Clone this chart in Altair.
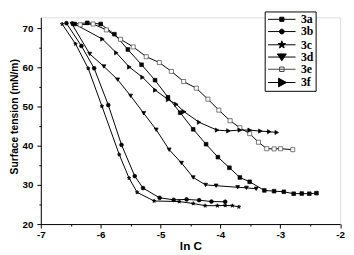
import altair as alt
import pandas as pd

# ---- data ----
series_names = ["3a", "3b", "3c", "3d", "3e", "3f"]

x_3a = [-6.436, -6.224, -6.000, -5.771, -5.546, -5.317, -5.092, -4.876, -4.672, -4.454, -4.239,
        -4.042, -3.850, -3.675, -3.511, -3.266, -3.103, -2.940, -2.776, -2.641, -2.515, -2.395]
y_3a = [71.1, 71.4, 71.1, 68.5, 64.6, 60.7, 56.75, 52.4, 48.45, 44.2, 40.4,
        37.1, 34.4, 31.9, 30.8, 28.6, 28.4, 28.25, 27.75, 27.8, 27.75, 27.9]

x_3b = [-6.572, -6.322, -6.109, -5.873, -5.652, -5.431, -5.292, -5.015, -4.781, -4.565, -4.356, -4.149, -3.920]
y_3b = [71.3, 65.5, 59.8, 50.4, 40.25, 32.25, 29.2, 26.7, 26.2, 26.3, 26.1, 25.75, 25.7]

x_3c = [-6.644, -6.420, -6.208, -5.979, -5.690, -5.526, -5.391, -5.108, -4.688, -4.454, -4.255,
        -4.051, -3.920, -3.801, -3.691]
y_3c = [71.1, 66.0, 59.75, 50.1, 37.75, 31.75, 28.1, 25.9, 25.75, 25.25, 24.7,
        24.7, 24.75, 24.7, 24.4]

x_3d = [-6.480, -6.183, -5.946, -5.717, -5.500, -5.281, -5.072, -4.856, -4.650, -4.454, -4.247,
        -4.072, -3.712, -3.565, -3.402]
y_3d = [71.1, 63.45, 60.25, 56.9, 52.75, 48.3, 44.1, 39.0, 35.6, 31.9, 30.0,
        29.8, 29.4, 29.25, 29.0]

x_3e = [-6.343, -6.126, -5.905, -5.668, -5.456, -5.239, -5.020, -4.819, -4.614, -4.402, -4.209,
        -4.026, -3.838, -3.675, -3.511, -3.364, -3.225, -3.103, -2.994, -2.792]
y_3e = [70.9, 71.1, 69.6, 67.2, 65.25, 62.75, 61.25, 59.0, 56.4, 54.7, 51.9,
        49.1, 46.4, 44.6, 43.1, 40.9, 39.25, 39.2, 39.25, 39.0]

x_3f = [-6.453, -5.971, -5.739, -5.521, -5.301, -5.088, -4.873, -4.737, -4.606, -4.356, -4.056,
        -3.866, -3.675, -3.511, -3.332, -3.185, -3.059]
y_3f = [71.25, 67.25, 63.75, 60.1, 57.5, 54.2, 51.8, 50.6, 48.7, 46.0, 44.0,
        43.8, 44.0, 44.0, 43.75, 43.6, 43.4]

x_ticks = [-7, -6.5, -6, -5.5, -5, -4.5, -4, -3.5, -3, -2.5, -2]
y_ticks = [20, 25, 30, 35, 40, 45, 50, 55, 60, 65, 70]

xs = [x_3a, x_3b, x_3c, x_3d, x_3e, x_3f]
ys = [y_3a, y_3b, y_3c, y_3d, y_3e, y_3f]
rows = []
for name, xv, yv in zip(series_names, xs, ys):
    for i, (a, b) in enumerate(zip(xv, yv)):
        rows.append({"series": name, "x": a, "y": b, "i": i})
df = pd.DataFrame(rows)

# ---- styles ----
star = ("M0,-1L0.235,-0.324L0.951,-0.309L0.38,0.124L0.588,0.809L0,0.4L-0.588,0.809"
        "L-0.38,0.124L-0.951,-0.309L-0.235,-0.324Z")
marker_shapes = ["square", "circle", star, "triangle-down", "square", "triangle-right"]
marker_sizes = [14, 18, 42, 38, 14, 38]
fills = ["black", "black", "black", "black", "white", "black"]
strokes = ["black", "black", "black", "black", "#444444", "black"]


def star_at(cx, r):
    pts = [(0, -1), (0.235, -0.324), (0.951, -0.309), (0.38, 0.124), (0.588, 0.809), (0, 0.4),
           (-0.588, 0.809), (-0.38, 0.124), (-0.951, -0.309), (-0.235, -0.324)]
    s = "M" + "L".join(f"{cx + px * r:.3f},{py * r:.3f}" for px, py in pts) + "Z"
    return s


line_part = "M-1,0H7"
c = 3
legend_shapes = [
    line_part + f"M{c-0.6},-0.6H{c+0.6}V0.6H{c-0.6}Z",
    line_part + f"M{c-0.7},0A0.7,0.7,0,1,0,{c+0.7},0A0.7,0.7,0,1,0,{c-0.7},0Z",
    line_part + star_at(c, 1.15),
    line_part + f"M{c-1.3},-0.9H{c+1.3}L{c},1.1Z",
    line_part + f"M{c-0.65},-0.65H{c+0.65}V0.65H{c-0.65}Z",
    line_part + f"M{c-0.95},-1.25L{c+1.35},0L{c-0.95},1.25Z",
]

FONT = "Liberation Sans"

x_enc = alt.X(
    "x:Q",
    scale=alt.Scale(domain=[-7, -2], nice=False, zero=False),
    axis=alt.Axis(
        values=x_ticks,
        labelExpr="datum.value % 1 === 0 ? '' + datum.value : ''",
        tickSize={"condition": {"test": "datum.value % 1 === 0", "value": 4}, "value": 2},
        title="ln C",
        titleFont=FONT, titleFontSize=12, titleFontWeight="bold", titleColor="black",
        titlePadding=1,
        labelFont=FONT, labelFontSize=10, labelFontWeight="bold", labelColor="black",
        labelPadding=2, labelFlush=False,
        domainColor="black", tickColor="black", domainWidth=1, tickWidth=1,
        grid=False,
    ),
)
y_enc = alt.Y(
    "y:Q",
    scale=alt.Scale(domain=[20, 72.8], nice=False, zero=False),
    axis=alt.Axis(
        values=y_ticks,
        labelExpr="datum.value % 10 === 0 ? '' + datum.value : ''",
        tickSize={"condition": {"test": "datum.value % 10 === 0", "value": 4}, "value": 2},
        title="Surface tension (mN/m)",
        titleFont=FONT, titleFontSize=10.5, titleFontWeight="bold", titleColor="black",
        titleX=-22, titleY=101,
        labelFont=FONT, labelFontSize=10, labelFontWeight="bold", labelColor="black",
        labelPadding=4, labelFlush=False,
        domainColor="black", tickColor="black", domainWidth=1, tickWidth=1,
        grid=False,
    ),
)

base = alt.Chart(df)

lines = base.mark_line(color="black", strokeWidth=1).encode(
    x=x_enc, y=y_enc, detail="series:N", order="i:Q"
)

points = base.mark_point(filled=True, opacity=1, strokeWidth=0.7).encode(
    x=x_enc,
    y=y_enc,
    shape=alt.Shape("series:N", scale=alt.Scale(domain=series_names, range=marker_shapes), legend=None),
    size=alt.Size("series:N", scale=alt.Scale(domain=series_names, range=marker_sizes), legend=None),
    fill=alt.Fill("series:N", scale=alt.Scale(domain=series_names, range=fills), legend=None),
    stroke=alt.Stroke("series:N", scale=alt.Scale(domain=series_names, range=strokes), legend=None),
)

leg = alt.Legend(
    title=None, orient="none", legendX=228.5, legendY=-6,
    strokeColor="black", fillColor="white", padding=2,
    symbolSize=49, symbolStrokeWidth=1, symbolOffset=-1,
    labelFont="Liberation Serif", labelFontWeight="bold", labelFontSize=12, labelColor="black",
    labelOffset=24, rowPadding=0.5,
)

legend_layer = base.transform_filter("false").mark_point(filled=True, opacity=1, strokeWidth=1).encode(
    x=x_enc,
    y=y_enc,
    shape=alt.Shape("series:N", scale=alt.Scale(domain=series_names, range=legend_shapes), legend=leg),
    fill=alt.Fill("series:N", scale=alt.Scale(domain=series_names, range=fills), legend=leg),
    stroke=alt.Stroke("series:N", scale=alt.Scale(domain=series_names, range=strokes), legend=leg),
)

chart = (
    alt.layer(lines, points, legend_layer)
    .resolve_scale(shape="independent", fill="independent", stroke="independent", size="independent")
    .properties(width=305.5, height=211, autosize="none",
                padding={"left": 33.5, "top": 7, "right": 6, "bottom": 28})
    .configure_view(stroke=None)
    .configure(background="white")
)

chart.save("out.html", embed_options={"renderer": "svg", "actions": False})
